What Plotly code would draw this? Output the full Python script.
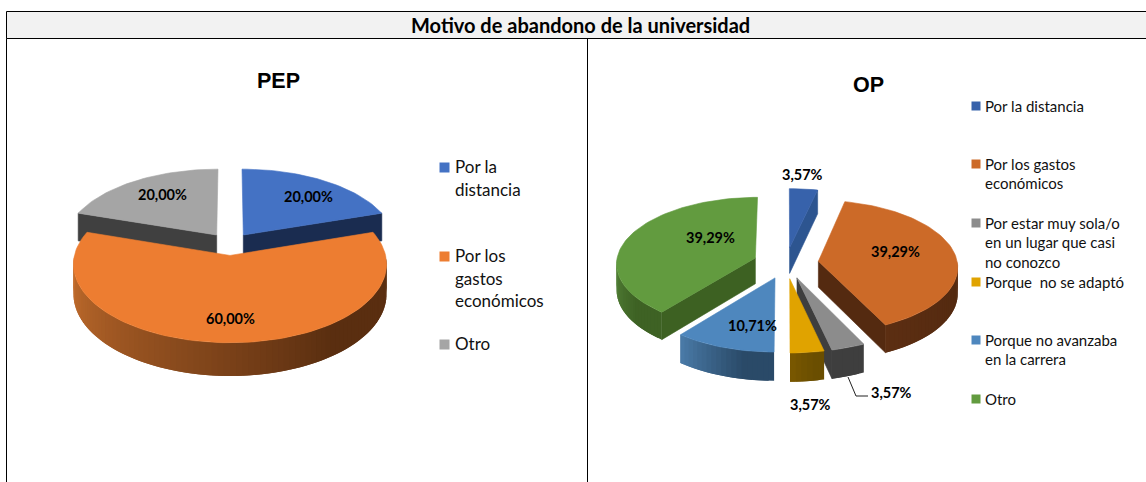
import math
import plotly.graph_objects as go

# ---- data ----
title_text = "Motivo de abandono de la universidad"
pep_title = "PEP"
op_title = "OP"
pep_labels = ["Por la distancia", "Por los gastos económicos", "Otro"]
pep_values = [20.00, 60.00, 20.00]
op_labels = ["Por la distancia", "Por los gastos económicos",
             "Por estar muy sola/o en un lugar que casi no conozco",
             "Porque  no se adaptó", "Porque no avanzaba en la carrera", "Otro"]
op_values = [3.57, 39.29, 3.57, 3.57, 10.71, 39.29]

# ---- styles ----
LABEL_FONT = "Lato"
pep_style = dict(cx=230, cy=244, rx=153, ry=75, k=0.11, e=0.15, d=29,
                 order=[2, 0, 1],
                 top=["#4472C4", "#ED7D31", "#A5A5A5"],
                 face=["#1A2C50", "#7A3F17", "#404040"],
                 wall=[("#1A2C50", "#1A2C50"), ("#C8702E", "#5A2E10"), ("#404040", "#404040")],
                 )
op_style = dict(cx=786, cy=263, rx=139, ry=66, k=0.077, e=0.235, d=26,
                order=[0, 5, 1, 4, 2, 3],
                top=["#3762AB", "#CC6A28", "#8C8C8C", "#E0A300", "#4E87BE", "#629B3F"],
                face=["#2D5590", "#542A10", "#3E3E3E", "#6E5000", "#2C4C6C", "#3D6122"],
                wall=[("#2D5590", "#2D5590"), ("#5C2E12", "#542A10"), ("#3E3E3E", "#3E3E3E"),
                      ("#7A5800", "#6A4E00"), ("#4A7BA8", "#2A4A68"), ("#55853A", "#3E6224")],
                )


def lerp_color(a, b, t):
    ca = [int(a[i:i + 2], 16) for i in (1, 3, 5)]
    cb = [int(b[i:i + 2], 16) for i in (1, 3, 5)]
    return "rgb(%d,%d,%d)" % tuple(round(x + (y - x) * t) for x, y in zip(ca, cb))


def poly(fig, xs, ys, color, width=0.6):
    fig.add_trace(go.Scatter(x=list(xs) + [xs[0]], y=list(ys) + [ys[0]], mode="lines",
                             fill="toself", fillcolor=color,
                             line=dict(color=color, width=width),
                             hoverinfo="skip", showlegend=False))


def draw_pie(fig, values, st):
    total = sum(values)
    edges = [0.0]
    for v in values:
        edges.append(edges[-1] + v / total * 360.0)

    def project(u, v, dz=0.0):
        w = 1.0 / (1.0 - st["k"] * v)
        return st["cx"] + st["rx"] * u * w, st["cy"] + st["ry"] * v * w + dz * w

    for i in st["order"]:
        a0, a1 = edges[i], edges[i + 1]
        mid = math.radians((a0 + a1) / 2)
        ou, ov = st["e"] * math.sin(mid), -st["e"] * math.cos(mid)

        def rim(deg, dz=0.0):
            t = math.radians(deg)
            return project(ou + math.sin(t), ov - math.cos(t), dz)

        apex_t = project(ou, ov)
        apex_b = project(ou, ov, st["d"])
        # cut faces seen from the front
        for edge, visible in ((a1, math.sin(math.radians(a1)) > 1e-6),
                              (a0, math.sin(math.radians(a0)) < -1e-6)):
            if visible:
                p, q = rim(edge), rim(edge, st["d"])
                poly(fig, [apex_t[0], p[0], q[0], apex_b[0]],
                     [apex_t[1], p[1], q[1], apex_b[1]], st["face"][i])
        # outer wall, front half only; each band is painted over the tail of the previous one
        lo, hi = max(a0, 90.0), min(a1, 270.0)
        if hi > lo:
            n = max(2, int((hi - lo) / 2))
            c0, c1 = st["wall"][i]
            for j in range(n):
                b0 = lo + (hi - lo) * j / n
                b1 = lo + (hi - lo) * min(j + 2, n) / n
                m = 4
                arc = [b0 + (b1 - b0) * q / m for q in range(m + 1)]
                top = [rim(b) for b in arc]
                bot = [rim(b, st["d"]) for b in reversed(arc)]
                t = (j + 0.5) / n
                color = lerp_color(c1, c0, max(0.0, (t - 0.3) / 0.7))
                poly(fig, [p[0] for p in top + bot], [p[1] for p in top + bot], color, width=0)
        # top face
        n = max(4, int((a1 - a0) / 2))
        pts = [rim(a0 + (a1 - a0) * j / n) for j in range(n + 1)]
        poly(fig, [apex_t[0]] + [p[0] for p in pts], [apex_t[1]] + [p[1] for p in pts], st["top"][i])


def pct(v):
    return f"{v:.2f}".replace(".", ",") + "%"


fig = go.Figure()
draw_pie(fig, pep_values, pep_style)
draw_pie(fig, op_values, op_style)

annotations = []


def text(x, y, s, size, family=LABEL_FONT, bold=False, anchor="left", color="#111111"):
    annotations.append(dict(x=x, y=y, xref="x", yref="y", text=f"<b>{s}</b>" if bold else s,
                            showarrow=False, xanchor=anchor, yanchor="middle",
                            font=dict(family=family, size=size, color=color)))


text(580.5, 25, title_text, 20, family="Lato", bold=True, anchor="center", color="#000000")
text(278, 81, pep_title, 21.5, family="Liberation Sans", bold=True, anchor="center", color="#000000")
text(868, 85, op_title, 21.5, family="Liberation Sans", bold=True, anchor="center", color="#000000")

# percentage labels
pep_label_xy = [(308, 196), (230, 318), (162, 194)]
op_label_xy = [(802, 174), (895, 251), (891, 392), (810, 404), (752, 325), (710, 237)]
for v, (x, y) in zip(pep_values, pep_label_xy):
    text(x, y, pct(v), 14.5, bold=True, anchor="center", color="#000000")
for v, (x, y) in zip(op_values, op_label_xy):
    text(x, y, pct(v), 14.5, bold=True, anchor="center", color="#000000")

# legends, wrapped as in the reference
pep_legend_lines = [["Por la", "distancia"], ["Por los", "gastos", "económicos"], ["Otro"]]
pep_legend_y = [167, 256, 344]
op_legend_lines = [["Por la distancia"], ["Por los gastos", "económicos"],
                   ["Por estar muy sola/o", "en un lugar que casi", "no conozco"],
                   ["Porque  no se adaptó"], ["Porque no avanzaba", "en la carrera"], ["Otro"]]
op_legend_y = [106, 164, 223, 282, 340, 399]

for lines, y0, color in zip(pep_legend_lines, pep_legend_y, pep_style["top"]):
    fig.add_trace(go.Scatter(x=[444.5], y=[y0 + 0.5], mode="markers", hoverinfo="skip", showlegend=False,
                             marker=dict(symbol="square", size=10, color=color, line=dict(width=0))))
    for j, line in enumerate(lines):
        text(452.5, y0 - 0.5 + j * 22.5, line, 17)
for lines, y0, color in zip(op_legend_lines, op_legend_y, op_style["top"]):
    fig.add_trace(go.Scatter(x=[976], y=[y0], mode="markers", hoverinfo="skip", showlegend=False,
                             marker=dict(symbol="square", size=9, color=color, line=dict(width=0))))
    for j, line in enumerate(lines):
        text(982.5, y0 - 0.5 + j * 19.7, line, 15)

line_style = dict(color="#000000", width=1)
shapes = [
    dict(type="rect", x0=6.5, x1=1150, y0=11.5, y1=38.5, fillcolor="#F2F2F2", line=line_style, layer="below"),
    dict(type="line", x0=6.5, x1=6.5, y0=38.5, y1=482, line=line_style),
    dict(type="line", x0=587.5, x1=587.5, y0=38.5, y1=482, line=line_style),
    dict(type="path", path="M 848 377 L 856 396 L 868 396", line=dict(color="#222222", width=1)),
]

fig.update_layout(
    width=1146, height=482, margin=dict(l=0, r=0, t=0, b=0),
    paper_bgcolor="#FFFFFF", plot_bgcolor="#FFFFFF", showlegend=False,
    xaxis=dict(range=[0, 1146], visible=False, fixedrange=True),
    yaxis=dict(range=[482, 0], visible=False, fixedrange=True),
    annotations=annotations, shapes=shapes,
)
fig.write_html("out.html", config=dict(displayModeBar=False),
               post_script="document.body.style.margin='0';document.body.style.overflow='hidden';")
